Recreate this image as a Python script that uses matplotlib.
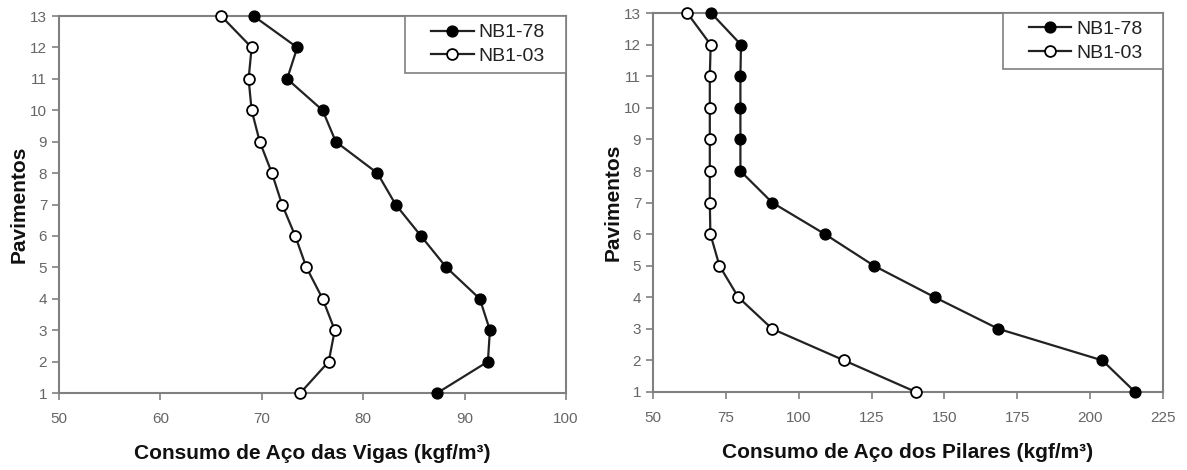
import matplotlib
matplotlib.use("Agg")
import matplotlib.pyplot as plt
from matplotlib.patches import Rectangle

plt.rcParams["font.family"] = ["Liberation Sans", "DejaVu Sans"]

PAV = [13, 12, 11, 10, 9, 8, 7, 6, 5, 4, 3, 2, 1]

# Vigas (beams)
VIGAS_78 = [69.2, 73.5, 72.5, 76.0, 77.3, 81.4, 83.2, 85.7, 88.2, 91.5, 92.5, 92.3, 87.3]
VIGAS_03 = [66.0, 69.0, 68.7, 69.0, 69.8, 71.0, 72.0, 73.3, 74.4, 76.0, 77.2, 76.6, 73.8]

# Pilares (columns)
PIL_78 = [70.0, 80.2, 80.0, 80.0, 80.0, 80.0, 90.9, 109.0, 125.8, 146.7, 168.5, 204.2, 215.4]
PIL_03 = [61.8, 69.8, 69.5, 69.5, 69.5, 69.5, 69.5, 69.7, 72.8, 79.3, 90.9, 115.6, 140.2]

GRAY = "#808080"
LINE = "#222222"


def panel(ax, s78, s03, xlim, xticks, xlabel, box):
    ax.plot(s78, PAV, color=LINE, lw=1.6, marker="o", ms=7.8,
            mfc="black", mec="black", label="NB1-78", clip_on=False, zorder=3)
    ax.plot(s03, PAV, color=LINE, lw=1.6, marker="o", ms=7.8,
            mfc="white", mec="black", mew=1.3, label="NB1-03", clip_on=False, zorder=3)
    ax.set_xlim(*xlim)
    ax.set_ylim(1, 13)
    ax.set_xticks(xticks)
    ax.set_yticks(range(1, 14))
    ax.tick_params(direction="out", length=5, width=1.2, color=GRAY,
                   labelcolor="#666666", labelsize=11)
    ax.tick_params(axis="x", pad=8.5)
    for sp in ax.spines.values():
        sp.set_color(GRAY)
        sp.set_linewidth(1.5)
    ax.set_xlabel(xlabel, fontsize=15, fontweight="bold", color="#111111", labelpad=13)
    ax.set_ylabel("Pavimentos", fontsize=15, fontweight="bold", color="#111111", labelpad=1)

    # legend box (frame drawn separately, wider than the legend content)
    x0, y0, w, h = box
    ax.add_patch(Rectangle((x0, y0), w, h, transform=ax.transAxes, fill=True,
                           facecolor="white", edgecolor=GRAY, lw=1.2,
                           zorder=4, clip_on=False))
    leg = ax.legend(loc="center", bbox_to_anchor=(x0 + w / 2 + 0.005, y0 + h / 2),
                    fontsize=14, frameon=False, handlelength=2.2,
                    handletextpad=0.25, borderpad=0, labelspacing=0.32)
    leg.set_zorder(5)
    for t in leg.get_texts():
        t.set_color("#222222")


fig = plt.figure(figsize=(11.87, 4.70), dpi=100)
ax1 = fig.add_axes([0.0497, 0.1638, 0.4271, 0.802])
ax2 = fig.add_axes([0.5501, 0.166, 0.4297, 0.806])

panel(ax1, VIGAS_78, VIGAS_03, (50, 100), [50, 60, 70, 80, 90, 100],
      "Consumo de Aço das Vigas (kgf/m³)", (0.682, 0.849, 0.318, 0.151))
panel(ax2, PIL_78, PIL_03, (50, 225), [50, 75, 100, 125, 150, 175, 200, 225],
      "Consumo de Aço dos Pilares (kgf/m³)", (0.686, 0.852, 0.314, 0.148))

fig.savefig("out.png", dpi=100)
